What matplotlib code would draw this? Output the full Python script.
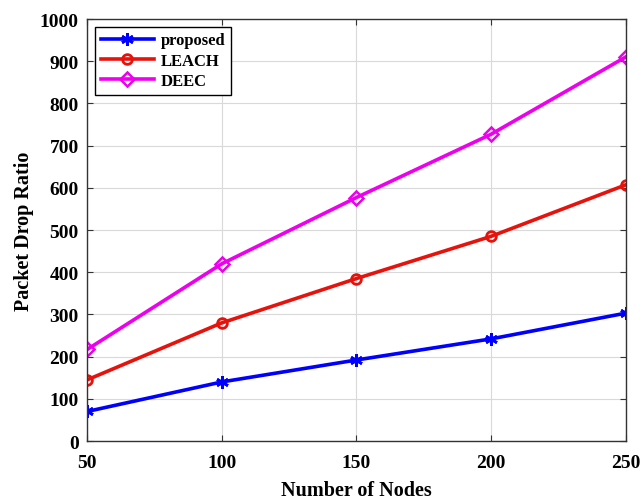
import matplotlib
matplotlib.use('Agg')
import matplotlib.pyplot as plt

# data
nodes = [50, 100, 150, 200, 250]
proposed = [70, 140, 192, 242, 303]
leach = [145, 280, 385, 485, 607]
deec = [217, 420, 577, 727, 910]

plt.rcParams['font.family'] = ['Liberation Serif', 'DejaVu Serif']
plt.rcParams['font.weight'] = 'bold'

fig = plt.figure(figsize=(6.41, 5.02), dpi=100)
ax = fig.add_axes([0.136, 0.1195, 0.840, 0.8405])

ax.plot(nodes, proposed, '-', marker=(6, 2, 0), color='#0000ff', linewidth=2.6, markersize=9,
        markeredgewidth=2.0, label='proposed')
ax.plot(nodes, leach, '-o', color='#e8120c', linewidth=2.6, markersize=7,
        markerfacecolor='none', markeredgewidth=2.0, label='LEACH')
ax.plot(nodes, deec, '-D', color='#ee00ee', linewidth=2.6, markersize=7,
        markerfacecolor='none', markeredgewidth=1.8, label='DEEC')

ax.set_xlim(50, 250)
ax.set_ylim(0, 1000)
ax.set_xticks(nodes)
ax.set_yticks(range(0, 1001, 100))
ax.grid(True, color='#d9d9d9', linewidth=0.8)
ax.set_axisbelow(True)
ax.tick_params(direction='in', length=4, labelsize=14, top=True, right=True, color='#333333')
ax.tick_params(axis='x', pad=9)
ax.tick_params(axis='y', pad=6)
for lbl in ax.get_xticklabels() + ax.get_yticklabels():
    lbl.set_fontweight('bold')
for s in ax.spines.values():
    s.set_linewidth(1.0)
    s.set_color('#333333')

ax.set_xlabel('Number of Nodes', fontsize=14.5, fontweight='bold', labelpad=7)
ax.set_ylabel('Packet Drop Ratio', fontsize=14.5, fontweight='bold', labelpad=4)

leg = ax.legend(loc='upper left', fontsize=12, fancybox=False, edgecolor='black',
                framealpha=1, borderaxespad=0.45, handlelength=3.2, handletextpad=0.4,
                borderpad=0.35, labelspacing=0.25)
leg.get_frame().set_linewidth(1.0)
for t in leg.get_texts():
    t.set_fontweight('bold')

fig.savefig('out.png', dpi=100)
